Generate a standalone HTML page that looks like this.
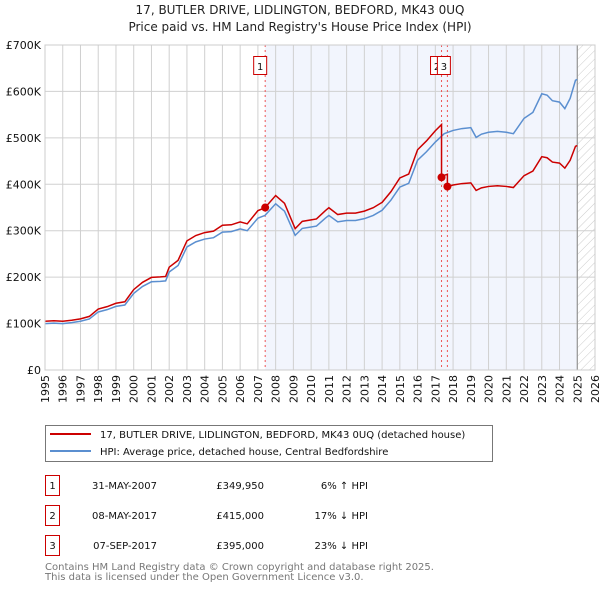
<!DOCTYPE html>
<html><head><meta charset="utf-8"><style>
body{margin:0;background:#fff;font-family:"DejaVu Sans","Liberation Sans",sans-serif;}
svg{display:block}
text{font-family:"DejaVu Sans","Liberation Sans",sans-serif;}
</style></head><body>
<svg id="chart" width="600" height="590" xmlns="http://www.w3.org/2000/svg">
<defs>
<pattern id="hatch" width="6" height="6" patternUnits="userSpaceOnUse" patternTransform="rotate(45)">
<line x1="0" y1="0" x2="0" y2="6" stroke="#ccc" stroke-width="1"/></pattern>
</defs>
<text x="300" y="14" text-anchor="middle" font-size="12" fill="#222">17, BUTLER DRIVE, LIDLINGTON, BEDFORD, MK43 0UQ</text>
<text x="300" y="31" text-anchor="middle" font-size="12" fill="#222">Price paid vs. HM Land Registry's House Price Index (HPI)</text>
<g id="plot"></g>
<g>
<rect x="45.5" y="425.5" width="447" height="36" fill="#fff" stroke="#777"/>
<line x1="50" y1="434" x2="91" y2="434" stroke="#cc0000" stroke-width="2"/>
<text x="100" y="438" font-size="10" fill="#111">17, BUTLER DRIVE, LIDLINGTON, BEDFORD, MK43 0UQ (detached house)</text>
<line x1="50" y1="451" x2="91" y2="451" stroke="#5b8fd0" stroke-width="2"/>
<text x="100" y="455" font-size="10" fill="#111">HPI: Average price, detached house, Central Bedfordshire</text>
</g>
<g font-size="10" fill="#111">
<rect x="45.5" y="475.5" width="14" height="20" fill="none" stroke="#cc0000"/><text x="52.5" y="489" text-anchor="middle">1</text>
<text x="157" y="489" text-anchor="end">31-MAY-2007</text><text x="264" y="489" text-anchor="end">£349,950</text><text x="368" y="489" text-anchor="end">6% ↑ HPI</text>
<rect x="45.5" y="505.5" width="14" height="20" fill="none" stroke="#cc0000"/><text x="52.5" y="519" text-anchor="middle">2</text>
<text x="157" y="519" text-anchor="end">08-MAY-2017</text><text x="264" y="519" text-anchor="end">£415,000</text><text x="368" y="519" text-anchor="end">17% ↓ HPI</text>
<rect x="45.5" y="535.5" width="14" height="20" fill="none" stroke="#cc0000"/><text x="52.5" y="549" text-anchor="middle">3</text>
<text x="157" y="549" text-anchor="end">07-SEP-2017</text><text x="264" y="549" text-anchor="end">£395,000</text><text x="368" y="549" text-anchor="end">23% ↓ HPI</text>
</g>
<text x="45" y="570" font-size="10" fill="#777">Contains HM Land Registry data © Crown copyright and database right 2025.</text>
<text x="45" y="580" font-size="10" fill="#777">This data is licensed under the Open Government Licence v3.0.</text>
</svg>
<script>
const hpiYears=[1995,1995.5,1996,1996.5,1997,1997.5,1998,1998.5,1999,1999.5,2000,2000.5,2001,2001.5,2001.8,2002,2002.5,2003,2003.5,2004,2004.5,2005,2005.5,2006,2006.4,2007,2007.4,2008,2008.5,2009.1,2009.5,2010,2010.3,2010.8,2011,2011.5,2012,2012.5,2013,2013.5,2014,2014.5,2015,2015.5,2016,2016.5,2017,2017.5,2018,2018.5,2019,2019.3,2019.6,2020,2020.5,2021,2021.4,2022,2022.5,2023,2023.3,2023.6,2024,2024.3,2024.6,2024.9,2025];
const hpiValues=[100,101,100,102,105,110,125,130,137,140,165,180,190,191,192,211,225,265,276,282,285,297,298,304,300,327,333,358,342,290,305,308,310,327,333,319,322,322,326,333,344,366,394,402,452,470,491,509,516,520,522,501,508,512,514,512,509,542,555,595,592,580,577,563,585,624,626];
const saleYears=[2007.41,2017.35,2017.68];
const salePrices=[349.95,415,395];
const saleLabels=["1","2","3"];
const yTicks=[0,100,200,300,400,500,600,700];
const yTickLabels=["£0","£100K","£200K","£300K","£400K","£500K","£600K","£700K"];
const xTicks=[];for(let y=1995;y<=2026;y++)xTicks.push(y);

const NS="http://www.w3.org/2000/svg";
const L=45,R=595,T=45,B=370;
const X=y=>L+(y-1995)*(R-L)/31;
const Y=v=>B-v*(B-T)/700;
const g=document.getElementById('plot');
function el(t,a,p){const e=document.createElementNS(NS,t);for(const k in a)e.setAttribute(k,a[k]);(p||g).appendChild(e);return e;}
function hpiAt(t){for(let i=1;i<hpiYears.length;i++){if(t<=hpiYears[i]){const f=(t-hpiYears[i-1])/(hpiYears[i]-hpiYears[i-1]);return hpiValues[i-1]+f*(hpiValues[i]-hpiValues[i-1]);}}return hpiValues[hpiValues.length-1];}

const bg=el('rect',{x:L,y:T,width:R-L,height:B-T,fill:'#fff'});


const sh=el('rect',{x:X(saleYears[0]),y:T,width:X(2025)-X(saleYears[0]),height:B-T,fill:'#f2f5fd'});


const ht=el('rect',{x:X(2025),y:T,width:R-X(2025),height:B-T,fill:'url(#hatch)'});


xTicks.forEach(y=>{
 const ln=el('line',{x1:X(y),x2:X(y),y1:T,y2:B,stroke:'#d0d0d0','stroke-width':1});
 
 
 const tx=el('text',{x:0,y:0,'font-size':11,fill:'#111','text-anchor':'end',transform:`translate(${X(y)+4},${B+5}) rotate(-90)`});
 tx.textContent=y;
 
 
});
yTicks.forEach((v,i)=>{
 const ln=el('line',{x1:L,x2:R,y1:Y(v),y2:Y(v),stroke:'#d0d0d0','stroke-width':1});
 
 
 const tx=el('text',{x:L-4,y:Y(v)+4,'font-size':11,fill:'#111','text-anchor':'end'});
 tx.textContent=yTickLabels[i];
 
 
});
const vl=el('line',{x1:X(2025),x2:X(2025),y1:T,y2:B,stroke:'#888','stroke-width':1});


saleYears.forEach((s,i)=>{
 const ln=el('line',{x1:X(s),x2:X(s),y1:T,y2:B,stroke:'#e55','stroke-width':1,'stroke-dasharray':'2,3'});
 
 
});
const hp=el('polyline',{points:hpiYears.map((y,i)=>X(y)+','+Y(hpiValues[i])).join(' '),fill:'none',stroke:'#5b8fd0','stroke-width':1.5});


const pts=[];
const times=hpiYears.concat(saleYears).sort((a,b)=>a-b);
times.forEach(t=>{
 let k=0;for(let j=0;j<saleYears.length;j++)if(t>=saleYears[j])k=j;
 const v=salePrices[k]*hpiAt(t)/hpiAt(saleYears[k]);
 if(saleYears.includes(t)&&saleYears.indexOf(t)>0){const kp=saleYears.indexOf(t)-1;pts.push(X(t)+','+Y(salePrices[kp]*hpiAt(t)/hpiAt(saleYears[kp])));}
 pts.push(X(t)+','+Y(v));
});
const pl=el('polyline',{points:pts.join(' '),fill:'none',stroke:'#cc0000','stroke-width':1.5});


saleYears.forEach((s,i)=>{
 const c=el('circle',{cx:X(s),cy:Y(salePrices[i]),r:4,fill:'#cc0000'});
 
 
});
const lx=[X(saleYears[0])-12,X(saleYears[1])-11.5,X(saleYears[2])-10.5];
saleLabels.forEach((lab,i)=>{
 const r=el('rect',{x:lx[i]+0.5,y:56.5,width:13,height:18,fill:'#fff',stroke:'#cc0000'});
 
 
 const t=el('text',{x:lx[i]+7,y:70,'font-size':10,'text-anchor':'middle',fill:'#111'});
 t.textContent=lab;
 
 
});
const fr=el('rect',{x:L,y:T,width:R-L,height:B-T,fill:'none',stroke:'#ccc'});


</script>
</body></html>
